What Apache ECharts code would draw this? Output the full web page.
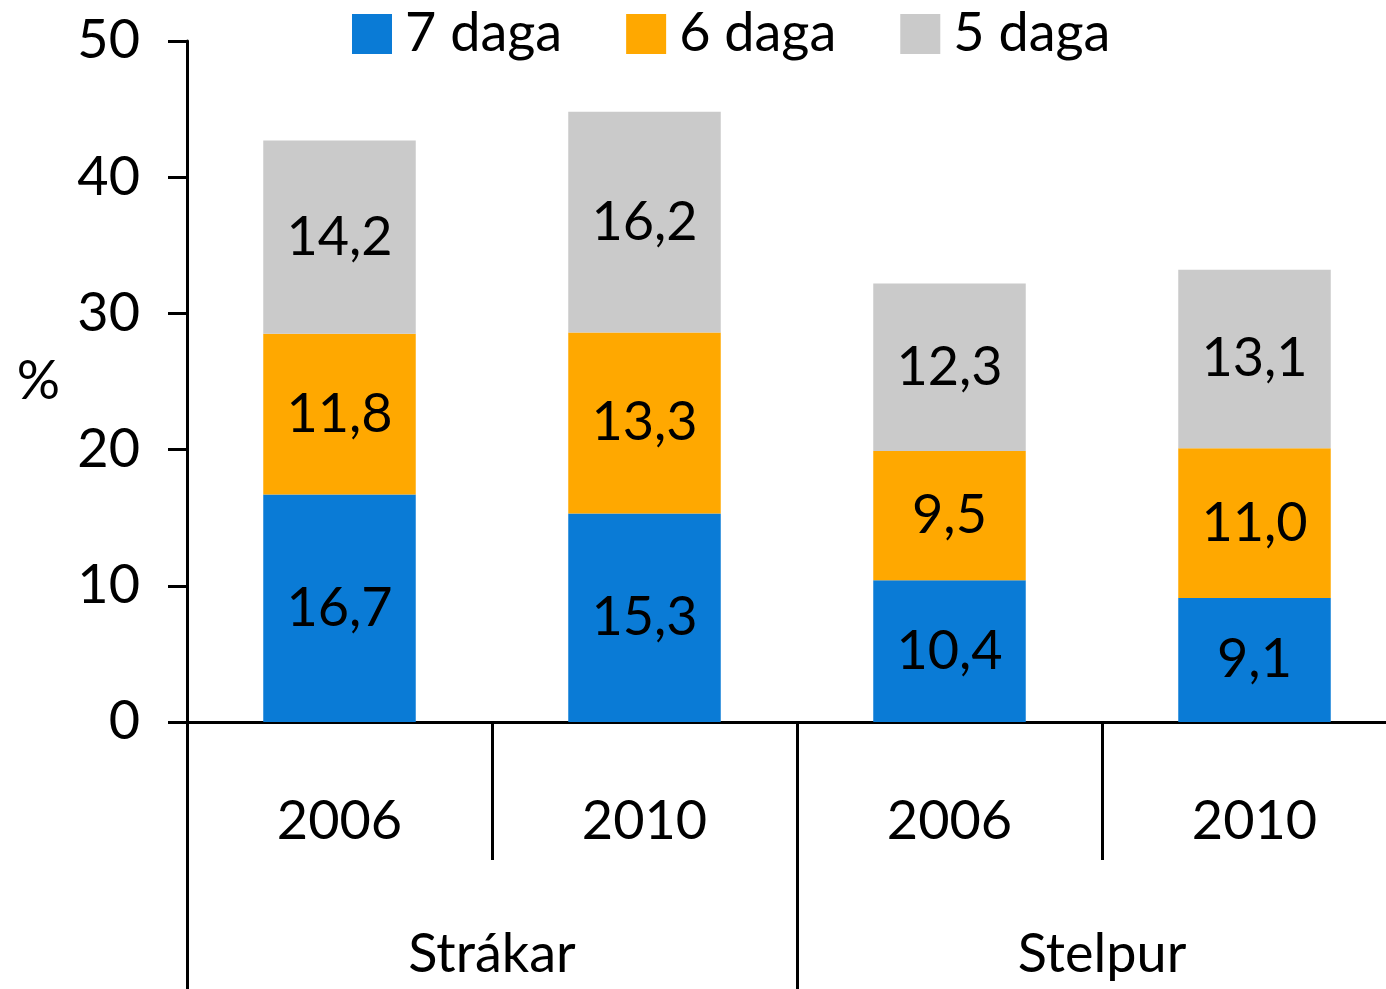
<!DOCTYPE html>
<html>
<head>
<meta charset="utf-8">
<script src="https://cdn.jsdelivr.net/npm/echarts@6/dist/echarts.min.js"></script>
<style>
  html, body { margin: 0; padding: 0; background: #fff; }
  #chart { width: 1386px; height: 989px; }
</style>
</head>
<body>
<div id="chart"></div>
<script>
// gögn
var years = ['2006', '2010', '2006', '2010']
var groups = ['Strákar', 'Stelpur']
var dagar7 = [16.7, 15.3, 10.4, 9.1]
var dagar6 = [11.8, 13.3, 9.5, 11.0]
var dagar5 = [14.2, 16.2, 12.3, 13.1]
var seriesNames = ['7 daga', '6 daga', '5 daga']
var colors = ['#0a7bd6', '#ffa800', '#cacaca']

var font = 'Lato, "Open Sans", sans-serif'
var fs = 54

var chart = echarts.init(document.getElementById('chart'))

function makeSeries(name, data, color) {
    return {
        name: name,
        type: 'bar',
        stack: 'total',
        barWidth: '50%',
        data: data,
        itemStyle: { color: color },
        label: {
            show: true,
            position: 'inside',
            color: '#000',
            fontFamily: font,
            fontSize: fs,
            formatter: function (p) {
                return p.value.toFixed(1).replace('.', ',')
            }
        }
    }
}

chart.setOption({
    animation: false,
    color: colors,
    textStyle: { fontFamily: font },
    legend: {
        top: 2,
        left: 347,
        itemWidth: 40,
        itemHeight: 40,
        itemGap: 64,
        icon: 'rect',
        textStyle: { fontSize: fs, color: '#000', fontFamily: font, padding: [0, 0, 0, 8] },
        data: seriesNames
    },
    grid: {
        left: 187,
        top: 41,
        right: -21,
        bottom: 267,
        outerBoundsMode: 'none'
    },
    xAxis: [{
        type: 'category',
        data: years,
        position: 'bottom',
        axisLine: { lineStyle: { color: '#000', width: 3 } },
        axisTick: { show: true, interval: 0, length: 138, lineStyle: { color: '#000', width: 3 } },
        axisLabel: { color: '#000', fontSize: fs, fontFamily: font, margin: 73, interval: 0 }
    }, {
        type: 'category',
        data: groups,
        position: 'bottom',
        axisLine: { show: false },
        axisTick: { show: true, interval: 0, length: 267, lineStyle: { color: '#000', width: 3 } },
        axisLabel: { color: '#000', fontSize: fs, fontFamily: font, margin: 206, interval: 0 }
    }],
    yAxis: {
        type: 'value',
        min: 0,
        max: 50,
        interval: 10,
        name: '%',
        nameLocation: 'middle',
        nameRotate: 0,
        nameGap: 127,
        nameTextStyle: { color: '#000', fontSize: fs, fontFamily: font, padding: [28, 0, 0, 0] },
        axisLine: { show: true, lineStyle: { color: '#000', width: 3 } },
        axisTick: { show: true, length: 19, lineStyle: { color: '#000', width: 3 } },
        axisLabel: { color: '#000', fontSize: fs, fontFamily: font, margin: 47 },
        splitLine: { show: false }
    },
    series: [
        makeSeries(seriesNames[0], dagar7, colors[0]),
        makeSeries(seriesNames[1], dagar6, colors[1]),
        makeSeries(seriesNames[2], dagar5, colors[2])
    ]
})
</script>
</body>
</html>
